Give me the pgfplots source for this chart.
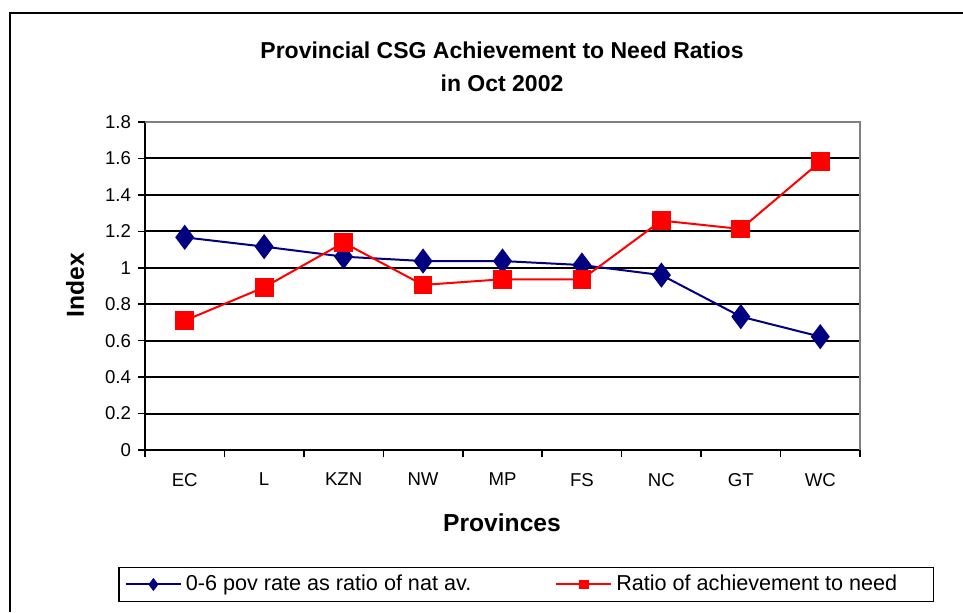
\documentclass[border=0pt]{standalone}
\usepackage{fontspec}
\setmainfont{Liberation Sans}
\usepackage{pgfplots}
\pgfplotsset{compat=1.18}
\definecolor{povblue}{RGB}{0,0,128}
\definecolor{achred}{RGB}{255,0,0}
\begin{document}
\begin{tikzpicture}[x=0.5pt,y=0.5pt]
% page = 963 x 612 px, 1px = 0.5pt
\path[use as bounding box] (0,0) rectangle (963,612);
\draw[line width=1pt] (10,0) -- (10,599) -- (963,599);
\node[font=\bfseries\fontsize{11.5}{16.5}\selectfont, align=center] at (502,545)
  {Provincial CSG Achievement to Need Ratios\\in Oct 2002};
\node[font=\bfseries\fontsize{12.3}{14}\selectfont, rotate=90] at (75,327) {Index};
\node[font=\bfseries\fontsize{12.3}{14}\selectfont] at (502,89) {Provinces};
\begin{axis}[
    at={(72.5pt,81pt)}, anchor=south west,
    width=357.5pt, height=164pt, scale only axis,
    xmin=0.5, xmax=9.5, ymin=0, ymax=1.8,
    xtick={0.5,1.5,...,9.5},
    x tick label as interval,
    xticklabels={EC,L,KZN,NW,MP,FS,NC,GT,WC},
    ytick={0,0.2,...,1.8},
    yticklabels={0,0.2,0.4,0.6,0.8,1,1.2,1.4,1.6,1.8},
    tick align=outside,
    major tick length=3.5pt,
    axis x line*=bottom, axis y line*=left,
    axis line style={line width=1pt, black, -},
    tick style={line width=0.8pt, black},
    ymajorgrids, grid style={line width=1pt, black},
    ticklabel style={font=\fontsize{9.3}{11}\selectfont},
    xticklabel style={yshift=-4.5pt},
    /pgf/number format/assume math mode=true,
    legend columns=2,
    legend style={at={(0.533,-0.41)}, anchor=center, draw=black, line width=0.6pt,
      font=\fontsize{10.8}{12}\selectfont, inner xsep=3pt, inner ysep=2pt,
      /tikz/every even column/.append style={column sep=40pt}},
    legend image code/.code={
      \draw[#1, every mark/.append style={scale=0.45}, mark repeat=2, mark phase=2]
        plot coordinates {(0pt,0pt) (13.75pt,0pt) (27.5pt,0pt)};},
    clip=false,
  ]
  \addplot[povblue, line width=1pt, mark=diamond*, mark size=5.5pt,
    mark options={solid, fill=povblue, draw=povblue}] coordinates {
    (1,1.167) (2,1.116) (3,1.061) (4,1.037) (5,1.037)
    (6,1.015) (7,0.960) (8,0.732) (9,0.622)};
  \addlegendentry{0-6 pov rate as ratio of nat av.}
  \addplot[achred, line width=1pt, mark=square*, mark size=4.2pt,
    mark options={solid, fill=achred, draw=achred}] coordinates {
    (1,0.710) (2,0.893) (3,1.138) (4,0.906) (5,0.937)
    (6,0.937) (7,1.259) (8,1.213) (9,1.582)};
  \addlegendentry{Ratio of achievement to need\rule{13pt}{0pt}}
  \draw[gray, line width=1pt] (rel axis cs:0,1) -- (rel axis cs:1,1) -- (rel axis cs:1,0);
\end{axis}
\end{tikzpicture}
\end{document}
